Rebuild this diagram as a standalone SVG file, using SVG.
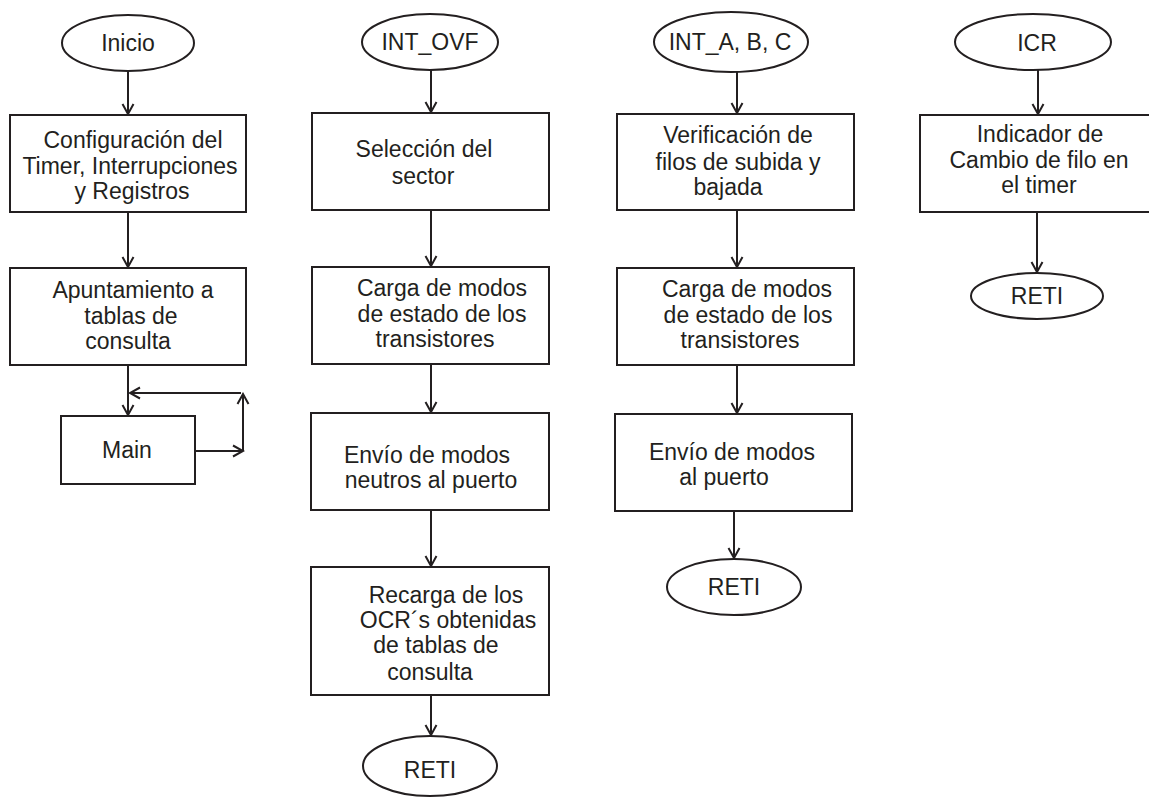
<svg xmlns="http://www.w3.org/2000/svg" width="1149" height="798" viewBox="0 0 1149 798">
<defs>
<style>
.s{fill:#fff;stroke:#231f20;stroke-width:2}
.c{fill:none;stroke:#231f20;stroke-width:2;marker-end:url(#a)}
text{font-family:"Liberation Sans",Arial,sans-serif;font-size:23px;fill:#231f20;text-anchor:middle}
</style>
<marker id="a" viewBox="-12 -7 14 14" refX="0" refY="0" markerWidth="14" markerHeight="14" orient="auto" markerUnits="userSpaceOnUse">
<path d="M-10,-5.5 L0,0 L-10,5.5" fill="none" stroke="#231f20" stroke-width="2"/>
</marker>
</defs>
<rect width="1149" height="798" fill="#fff"/>
<g id="connectors">
<path class="c" d="M128,71 V114"/>
<path class="c" d="M128,212 V267"/>
<path class="c" d="M128,365 V415"/>
<path class="c" d="M195,451 H243"/>
<path class="c" d="M243,451 V394"/>
<path class="c" d="M241,393 H130"/>
<path class="c" d="M431,70 V112"/>
<path class="c" d="M431,210 V266"/>
<path class="c" d="M431,364 V412"/>
<path class="c" d="M431,510 V566"/>
<path class="c" d="M431,695 V735"/>
<path class="c" d="M737,72 V113"/>
<path class="c" d="M737,210 V267"/>
<path class="c" d="M737,365 V413"/>
<path class="c" d="M734,511 V558"/>
<path class="c" d="M1038,70 V114"/>
<path class="c" d="M1037,212 V272"/>
</g>
<g id="inicio"><ellipse class="s" cx="128" cy="43" rx="66" ry="28"/><text x="128" y="51">Inicio</text></g>
<g id="config"><rect class="s" x="10" y="115" width="236" height="97"/>
<text x="133" y="148">Configuración del</text><text x="130" y="174">Timer, Interrupciones</text><text x="132" y="199">y Registros</text></g>
<g id="apunt"><rect class="s" x="10" y="268" width="236" height="97"/>
<text x="133" y="298">Apuntamiento a</text><text x="131" y="324">tablas de</text><text x="128" y="349">consulta</text></g>
<g id="main"><rect class="s" x="61" y="416" width="134" height="68"/><text x="127" y="458">Main</text></g>

<g id="int_ovf"><ellipse class="s" cx="430" cy="42" rx="68" ry="28"/><text x="430" y="50">INT_OVF</text></g>
<g id="sel"><rect class="s" x="312" y="113" width="237" height="97"/>
<text x="424" y="157">Selección del</text><text x="423" y="184">sector</text></g>
<g id="carga1"><rect class="s" x="312" y="267" width="237" height="97"/>
<text x="442" y="296">Carga de modos</text><text x="442" y="322">de estado de los</text><text x="435" y="347">transistores</text></g>
<g id="envio1"><rect class="s" x="311" y="413" width="238" height="97"/>
<text x="427" y="463">Envío de modos</text><text x="431" y="488">neutros al puerto</text></g>
<g id="recarga"><rect class="s" x="311" y="567" width="238" height="128"/>
<text x="446" y="603">Recarga de los</text><text x="448" y="628">OCR´s obtenidas</text><text x="436" y="653">de tablas de</text><text x="430" y="680">consulta</text></g>
<g id="reti1"><ellipse class="s" cx="430" cy="766" rx="67" ry="30"/><text x="430" y="778">RETI</text></g>

<g id="int_abc"><ellipse class="s" cx="731" cy="42" rx="77" ry="30"/><text x="730" y="50">INT_A, B, C</text></g>
<g id="verif"><rect class="s" x="617" y="114" width="237" height="96"/>
<text x="738" y="143">Verificación de</text><text x="738" y="170">filos de subida y</text><text x="728" y="195">bajada</text></g>
<g id="carga2"><rect class="s" x="617" y="268" width="237" height="97"/>
<text x="747" y="297">Carga de modos</text><text x="748" y="323">de estado de los</text><text x="740" y="348">transistores</text></g>
<g id="envio2"><rect class="s" x="615" y="414" width="237" height="97"/>
<text x="732" y="460">Envío de modos</text><text x="724" y="485">al puerto</text></g>
<g id="reti2"><ellipse class="s" cx="734" cy="587" rx="67" ry="28"/><text x="734" y="595">RETI</text></g>

<g id="icr"><ellipse class="s" cx="1033" cy="42" rx="78" ry="28"/><text x="1037" y="51">ICR</text></g>
<g id="indic"><rect class="s" x="920" y="115" width="240" height="97"/>
<text x="1040" y="142">Indicador de</text><text x="1039" y="168">Cambio de filo en</text><text x="1039" y="193">el timer</text></g>
<g id="reti3"><ellipse class="s" cx="1037" cy="296" rx="66" ry="23"/><text x="1037" y="304">RETI</text></g>
</svg>
